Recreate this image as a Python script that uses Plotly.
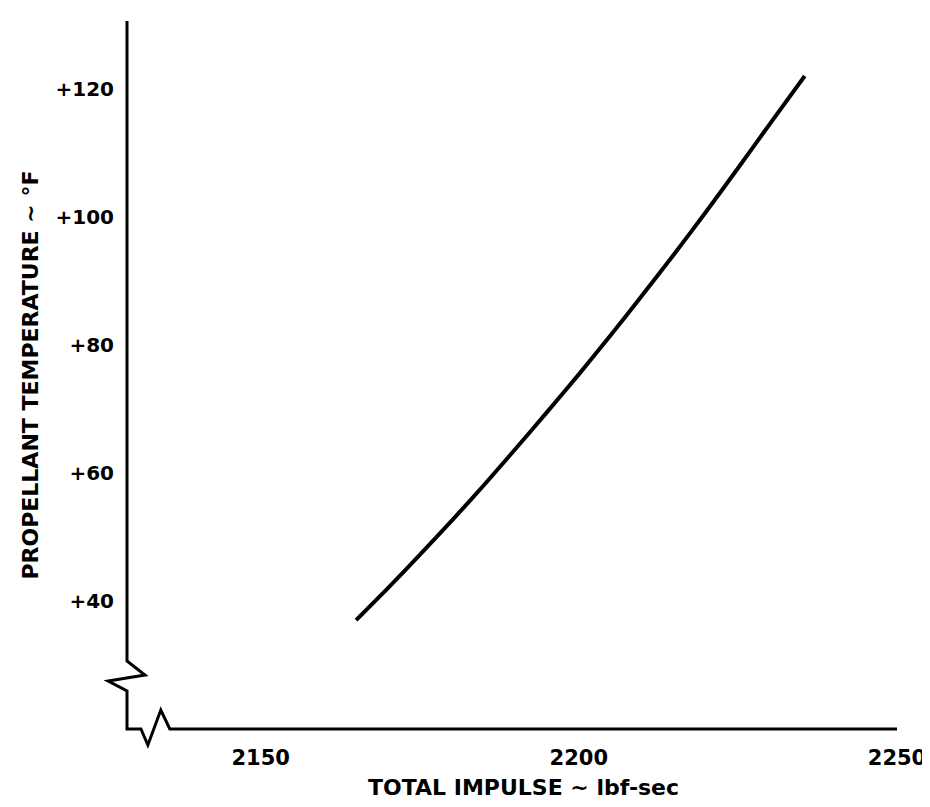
import plotly.graph_objects as go

# Data
impulse = [2165, 2170, 2175, 2180, 2185, 2190, 2195, 2200, 2205, 2210, 2215, 2220, 2225, 2230, 2235.5]
temperature = [37, 42, 47.2, 52.5, 58, 63.7, 69.5, 75.4, 81.5, 87.8, 94.2, 100.8, 107.6, 114.5, 122]

x_tick_vals = [2150, 2200, 2250]
x_tick_text = ["2150", "2200", "2250"]
y_tick_vals = [40, 60, 80, 100, 120]
y_tick_text = ["+40", "+60", "+80", "+100", "+120"]

x_title = "TOTAL IMPULSE ~ lbf-sec"
y_title = "PROPELLANT TEMPERATURE ~ °F"

FONT = "DejaVu Sans"

fig = go.Figure()
fig.add_trace(go.Scatter(
    x=impulse, y=temperature, mode="lines",
    line=dict(color="black", width=4, shape="spline", smoothing=0.6),
    showlegend=False, hoverinfo="skip",
))

# Axis lines with break symbols (paper coordinates)
axis_path = (
    "M 0,1 L 0,0.096 L 0.0233,0.0763 L -0.0245,0.0678 L 0,0.0537 L 0,0 "
    "L 0.0181,0 L 0.0271,-0.0226 L 0.0439,0.0268 L 0.0556,0 L 1,0"
)
fig.add_shape(type="path", xref="paper", yref="paper", path=axis_path,
              line=dict(color="black", width=3), layer="above")

fig.add_annotation(text=f"<b>{x_title}</b>", xref="paper", yref="paper",
                   x=0.515, y=-0.083, showarrow=False,
                   font=dict(family=FONT, size=22, color="black"),
                   xanchor="center", yanchor="middle")
fig.add_annotation(text=f"<b>{y_title}</b>", xref="paper", yref="paper",
                   x=-0.1265, y=0.50, showarrow=False, textangle=-90,
                   font=dict(family=FONT, size=22, color="black"),
                   xanchor="center", yanchor="middle")

fig.update_layout(
    width=930, height=807,
    margin=dict(l=119, r=37, t=13, b=86),
    paper_bgcolor="white", plot_bgcolor="white",
    font=dict(family=FONT, color="black"),
    xaxis=dict(range=[2129, 2250], tickvals=x_tick_vals, ticktext=x_tick_text,
               showgrid=False, zeroline=False, showline=False,
               ticks="outside", ticklen=10, tickcolor="rgba(0,0,0,0)",
               tickfont=dict(family=FONT, size=21, weight="bold")),
    yaxis=dict(range=[20, 130.6], tickvals=y_tick_vals, ticktext=y_tick_text,
               showgrid=False, zeroline=False, showline=False,
               ticks="outside", ticklen=8, tickcolor="rgba(0,0,0,0)",
               tickfont=dict(family=FONT, size=20, weight="bold")),
)

fig.write_html("out.html")
